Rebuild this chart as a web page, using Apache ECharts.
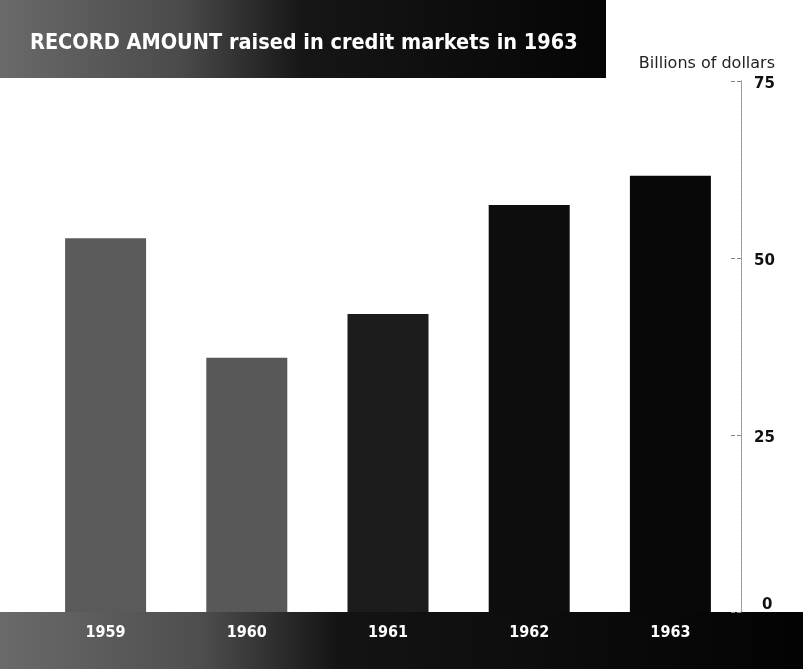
<!DOCTYPE html>
<html>
<head>
<meta charset="utf-8">
<script src="https://cdn.jsdelivr.net/npm/echarts@6/dist/echarts.min.js"></script>
<style>
  html, body { margin: 0; padding: 0; background: #fff; }
  #chart { width: 803px; height: 669px; }
</style>
</head>
<body>
<div id="chart"></div>
<script>
// data
const years = ["1959", "1960", "1961", "1962", "1963"];
const amounts = [52.8, 35.9, 42.1, 57.5, 61.6]; // billions of dollars
const yTicks = [0, 25, 50, 75];
// bar shades, lighter (gray) to solid black
const barColors = ["#5a5a5a", "#585858", "#1c1c1c", "#0d0d0d", "#080808"];

const chart = echarts.init(document.getElementById("chart"));

const option = {
  animation: false,
  grid: { left: 35, right: 62, top: 81, bottom: 57 },
  graphic: [
    {
      type: "rect",
      z: -5,
      shape: { x: 0, y: 0, width: 606, height: 78 },
      style: {
        fill: new echarts.graphic.LinearGradient(0, 0, 1, 0, [
          { offset: 0, color: "#6a6a6a" },
          { offset: 0.3, color: "#4a4a4a" },
          { offset: 0.5, color: "#161616" },
          { offset: 1, color: "#050505" },
        ]),
      },
    },
    {
      type: "text",
      z: 5,
      left: 30,
      top: 32,
      style: {
        text: "RECORD AMOUNT raised in credit markets in 1963",
        fill: "#fff",
        font: "bold 21.5px 'DejaVu Sans Condensed', 'Liberation Sans Narrow', sans-serif",
      },
    },
    {
      type: "rect",
      z: -5,
      shape: { x: 0, y: 612, width: 803, height: 57 },
      style: {
        fill: new echarts.graphic.LinearGradient(0, 0, 1, 0, [
          { offset: 0, color: "#6a6a6a" },
          { offset: 0.25, color: "#4e4e4e" },
          { offset: 0.42, color: "#141414" },
          { offset: 1, color: "#030303" },
        ]),
      },
    },
    {
      type: "text",
      z: 5,
      right: 28,
      top: 56,
      style: {
        text: "Billions of dollars",
        fill: "#222",
        font: "16px 'DejaVu Sans', sans-serif",
      },
    },
  ],
  xAxis: {
    type: "category",
    data: years,
    axisLine: { show: false },
    axisTick: { show: false },
    axisLabel: {
      color: "#fff",
      fontWeight: "bold",
      fontSize: 16,
      fontFamily: "'DejaVu Sans Condensed', sans-serif",
      margin: 13,
    },
    z: 10,
  },
  yAxis: {
    type: "value",
    position: "right",
    min: 0,
    max: 75,
    interval: 25,
    axisLine: { show: true, lineStyle: { color: "#888", type: "dotted", width: 1 } },
    axisTick: { show: true, inside: true, length: 12, lineStyle: { color: "#888", type: "dashed" } },
    splitLine: { show: false },
    axisLabel: {
      color: "#111",
      fontWeight: "bold",
      fontSize: 15,
      fontFamily: "'DejaVu Sans', sans-serif",
      margin: 13,
      formatter: (v) => {
        if (!yTicks.includes(v)) return "";
        return v === 0 ? "{zero|0}" : "{n|" + v + "}";
      },
      rich: {
        n: { fontWeight: "bold", fontSize: 15, color: "#111", padding: [6, 0, 0, 0] },
        zero: { fontWeight: "bold", fontSize: 15, color: "#111", padding: [0, 0, 14, 8] },
      },
    },
  },
  series: [
    {
      type: "bar",
      barWidth: 81,
      data: amounts.map((v, i) => ({ value: v, itemStyle: { color: barColors[i] } })),
    },
  ],
};

chart.setOption(option);
</script>
</body>
</html>
